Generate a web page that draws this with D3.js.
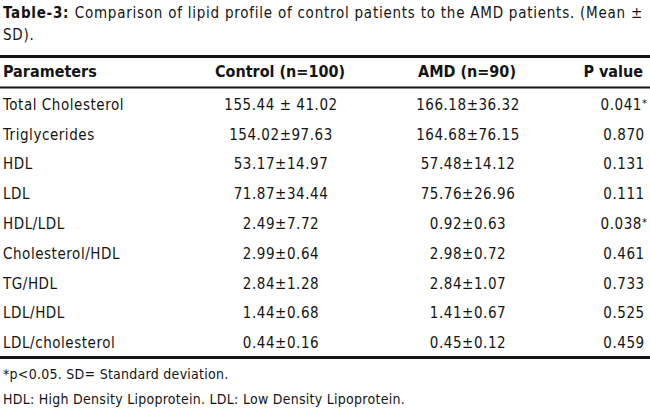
<!DOCTYPE html>
<html>
<head>
<meta charset="utf-8">
<script src="https://cdn.jsdelivr.net/npm/d3@7"></script>
<style>
  body { margin: 0; background: #fff; }
  svg text { font-family: "DejaVu Sans Condensed", "Liberation Sans Narrow", sans-serif; fill: #141414; }
</style>
</head>
<body>
<script>
const titleBold = "Table-3:"
const titleLines = ["Comparison of lipid profile of control patients to the AMD patients. (Mean \u00b1", "SD)."]
const headers = ["Parameters", "Control (n=100)", "AMD (n=90)", "P value"]
const parameters = ["Total Cholesterol", "Triglycerides", "HDL", "LDL", "HDL/LDL", "Cholesterol/HDL", "TG/HDL", "LDL/HDL", "LDL/cholesterol"]
const controlVals = ["155.44 \u00b1 41.02", "154.02\u00b197.63", "53.17\u00b114.97", "71.87\u00b134.44", "2.49\u00b17.72", "2.99\u00b10.64", "2.84\u00b11.28", "1.44\u00b10.68", "0.44\u00b10.16"]
const amdVals = ["166.18\u00b136.32", "164.68\u00b176.15", "57.48\u00b114.12", "75.76\u00b126.96", "0.92\u00b10.63", "2.98\u00b10.72", "2.84\u00b11.07", "1.41\u00b10.67", "0.45\u00b10.12"]
const pValues = ["0.041*", "0.870", "0.131", "0.111", "0.038*", "0.461", "0.733", "0.525", "0.459"]
const footnotes = ["*p<0.05. SD= Standard deviation.", "HDL: High Density Lipoprotein. LDL: Low Density Lipoprotein."]

const w = 650
const h = 417

const svg = d3.select("body")
  .append("svg")
  .attr("width", w)
  .attr("height", h)

// spread a text line out so it ends at a given width
function fitLine(sel, target) {
  sel.style("letter-spacing", "0px")
  const len = sel.node().getComputedTextLength()
  const n = sel.text().length
  sel.style("letter-spacing", Math.max(0, (target - len) / n) + "px")
}

// title
const t1 = svg.append("text")
  .attr("x", 3)
  .attr("y", 18)
  .style("font-size", "15px")
t1.append("tspan").style("font-weight", "bold").text(titleBold + " ")
t1.append("tspan").text(titleLines[0])
fitLine(t1, 640)
svg.append("text")
  .attr("x", 3)
  .attr("y", 40)
  .style("font-size", "15px")
  .style("letter-spacing", t1.style("letter-spacing"))
  .text(titleLines[1])

// rows
const yScale = d3.scaleBand()
  .domain(parameters)
  .range([88, 356])

const cols = [
  { x: 3, anchor: "start" },
  { x: 281, anchor: "middle" },
  { x: 468, anchor: "middle" },
  { x: 624, anchor: "middle" }
]

// rules
svg.append("line")
  .attr("x1", 0).attr("x2", w)
  .attr("y1", 56.5).attr("y2", 56.5)
  .attr("stroke", "#141414").attr("stroke-width", 3)
svg.append("line")
  .attr("x1", 0).attr("x2", w)
  .attr("y1", 87.5).attr("y2", 87.5)
  .attr("stroke", "#141414").attr("stroke-width", 2)
svg.append("line")
  .attr("x1", 0).attr("x2", w)
  .attr("y1", 357.5).attr("y2", 357.5)
  .attr("stroke", "#141414").attr("stroke-width", 3)

// header
svg.selectAll(".head")
  .data(headers)
  .enter()
  .append("text")
  .attr("class", "head")
  .attr("x", (d, i) => i == 3 ? 643 : (i == 0 ? 3 : cols[i].x - 1))
  .attr("y", 77)
  .attr("text-anchor", (d, i) => i == 3 ? "end" : cols[i].anchor)
  .style("font-size", "16px")
  .style("font-weight", "bold")
  .style("letter-spacing", "0px")
  .text(d => d)

const rows = parameters.map((p, i) => [p, controlVals[i], amdVals[i], pValues[i]])

const rowG = svg.selectAll(".row")
  .data(rows)
  .enter()
  .append("g")
  .attr("class", "row")
  .attr("transform", d => "translate(0," + (yScale(d[0]) + yScale.bandwidth() / 2 + 7) + ")")

rowG.selectAll("text")
  .data(d => d)
  .enter()
  .append("text")
  .attr("x", (d, i) => cols[i].x)
  .attr("text-anchor", (d, i) => cols[i].anchor)
  .style("font-size", "15px")
  .style("letter-spacing", "0.55px")
  .each(function(d) {
    const el = d3.select(this)
    if (d.endsWith("*")) {
      el.append("tspan").text(d.slice(0, -1))
      el.append("tspan").attr("dy", -3).style("font-size", "11px").text("*")
    } else {
      el.text(d)
    }
  })

// footnotes
svg.selectAll(".foot")
  .data(footnotes)
  .enter()
  .append("text")
  .attr("class", "foot")
  .attr("x", 3)
  .attr("y", (d, i) => 379 + i * 25)
  .style("font-size", "14px")
  .text(d => d)
fitLine(svg.selectAll(".foot").filter((d, i) => i == 1), 402)
svg.selectAll(".foot").filter((d, i) => i == 0)
  .style("letter-spacing", svg.selectAll(".foot").filter((d, i) => i == 1).style("letter-spacing"))
</script>
</body>
</html>
